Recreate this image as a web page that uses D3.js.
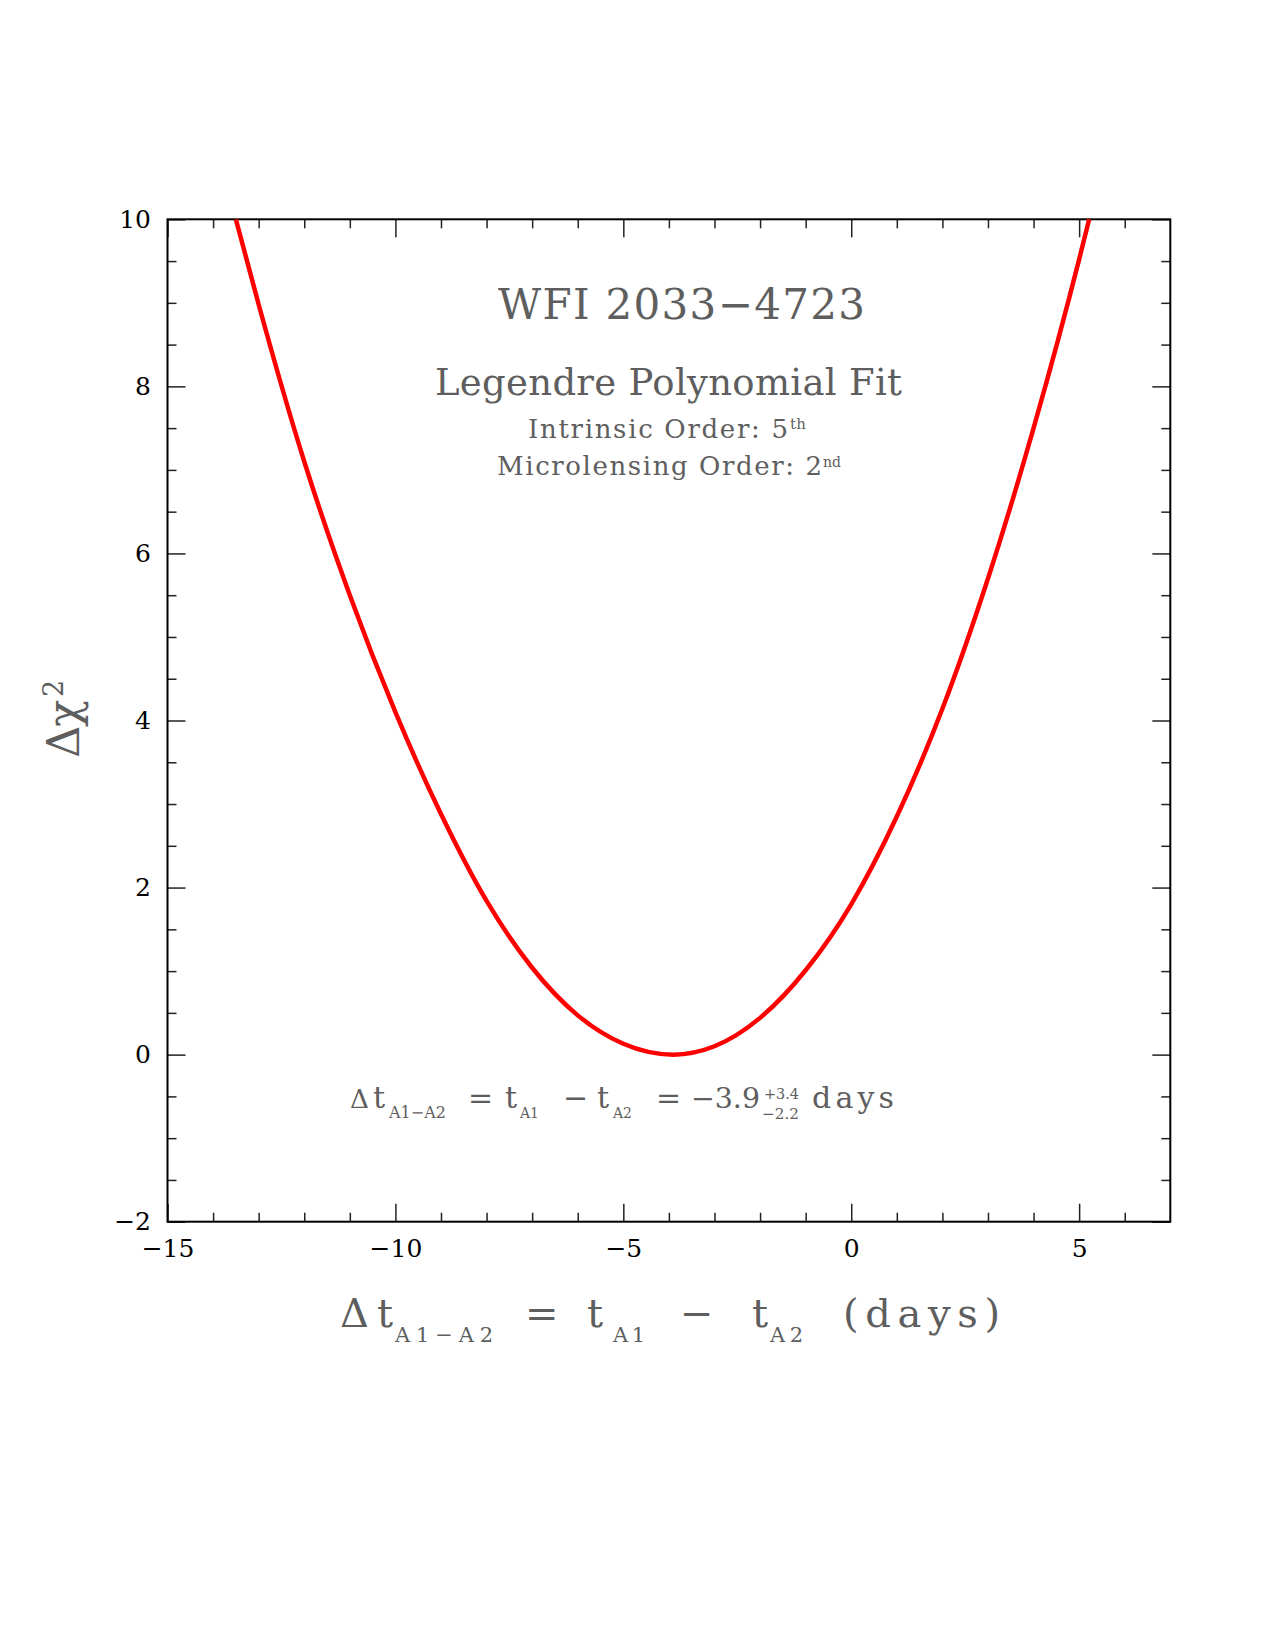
<!DOCTYPE html>
<html><head><meta charset="utf-8">
<script src="https://cdn.jsdelivr.net/npm/d3@7"></script>
<style>body{margin:0;background:#fff} svg{display:block}</style>
</head><body>
<svg id="chart" width="1275" height="1650"></svg>
<script>
// ---- data ----
const dtValues   = [-13.50, -13.00, -12.00, -11.00, -10.00, -9.00, -8.00, -7.00, -6.00, -5.00, -3.91, -3.00, -2.00, -1.00, 0.00, 1.00, 2.00, 3.00, 4.00, 5.00, 5.22];
const chi2Values = [10.00, 8.98, 7.10, 5.50, 4.10, 2.88, 1.84, 1.04, 0.47, 0.13, 0.00, 0.10, 0.44, 1.01, 1.80, 2.85, 4.14, 5.70, 7.50, 9.52, 10.00];
const xMajorTicks = [-15, -10, -5, 0, 5];
const xMinorTicks = [-14, -13, -12, -11, -9, -8, -7, -6, -4, -3, -2, -1, 1, 2, 3, 4, 6];
const yMajorTicks = [-2, 0, 2, 4, 6, 8, 10];
const yMinorTicks = [-1.5, -1, -0.5, 0.5, 1, 1.5, 2.5, 3, 3.5, 4.5, 5, 5.5, 6.5, 7, 7.5, 8.5, 9, 9.5];
const xDomain = [-15, 7];
const yDomain = [-2, 10];

// ---- layout ----
const L = 167.5, R = 1170.3, T = 219.3, B = 1221.7;
const FONT = "DejaVu Serif";
const TEXTC = "#5e5e5e";
const svg = d3.select("#chart");
const x = d3.scaleLinear().domain(xDomain).range([L, R]);
const y = d3.scaleLinear().domain(yDomain).range([B, T]);
const fmt = d3.format("d");

function styleAxis(g) {
  g.select(".domain").remove();
  g.selectAll(".tick line").attr("stroke", "#222").attr("stroke-width", 1.5);
  g.attr("font-family", FONT).attr("font-size", 25);
  g.selectAll(".tick text").attr("fill", "#000");
}
function major(axisFn, pos, vals, withLabels, pad) {
  const g = svg.append("g").attr("transform", pos)
    .call(axisFn.tickValues(vals).tickSizeInner(-18).tickSizeOuter(0).tickPadding(pad || 3)
      .tickFormat(withLabels ? fmt : ""));
  styleAxis(g);
}
function minor(axisFn, pos, vals) {
  const g = svg.append("g").attr("transform", pos)
    .call(axisFn.tickValues(vals).tickSizeInner(-9).tickSizeOuter(0).tickFormat(""));
  styleAxis(g);
}
major(d3.axisBottom(x), `translate(0,${B})`, xMajorTicks, true, 17.5);
major(d3.axisTop(x), `translate(0,${T})`, xMajorTicks, false);
major(d3.axisLeft(y), `translate(${L},0)`, yMajorTicks, true, 16.5);
major(d3.axisRight(y), `translate(${R},0)`, yMajorTicks, false);
minor(d3.axisBottom(x), `translate(0,${B})`, xMinorTicks);
minor(d3.axisTop(x), `translate(0,${T})`, xMinorTicks);
minor(d3.axisLeft(y), `translate(${L},0)`, yMinorTicks);
minor(d3.axisRight(y), `translate(${R},0)`, yMinorTicks);

// frame
svg.append("rect").attr("x", L).attr("y", T).attr("width", R - L).attr("height", B - T)
  .attr("fill", "none").attr("stroke", "#000").attr("stroke-width", 2);

// curve
svg.append("clipPath").attr("id", "clip").append("rect")
  .attr("x", L).attr("y", T - 1).attr("width", R - L).attr("height", B - T + 1);
const pts = dtValues.map((d, i) => [d, chi2Values[i]]);
svg.append("path").datum(pts)
  .attr("clip-path", "url(#clip)")
  .attr("fill", "none").attr("stroke", "#ff0000").attr("stroke-width", 4.5)
  .attr("stroke-linejoin", "round")
  .attr("d", d3.line().x(d => x(d[0])).y(d => y(d[1])).curve(d3.curveMonotoneX));

// ---- text ----
function fitText(parent, str, x0, x1, yb, size, fill) {
  const t = parent.append("text").attr("x", x0).attr("y", yb)
    .attr("font-family", FONT).attr("font-size", size).attr("fill", fill || TEXTC).text(str);
  const n = [...str].length;
  if (x1 != null) {
    const w = t.node().getComputedTextLength();
    const target = x1 - x0;
    if (w > target) {
      t.attr("font-size", size * target / w);
    } else if (n > 1) {
      t.attr("letter-spacing", (target - w) / (n - 1));
    }
  }
  return t;
}

// title block
fitText(svg, "WFI 2033\u22124723", 498, 865, 319, 42);
fitText(svg, "Legendre Polynomial Fit", 435, 902, 395, 37);
fitText(svg, "Intrinsic Order: 5", 528, 788, 438, 26);
fitText(svg, "th", 790, 806, 429, 15);
fitText(svg, "Microlensing Order: 2", 497, 822, 475, 26);
fitText(svg, "nd", 823, 841, 467, 15);

// annotation inside the plot
const ab = 1108, as = 1118, ap = 1099;
fitText(svg, "\u0394", 350, 369, ab, 27);
fitText(svg, "t", 373, null, ab, 30);
fitText(svg, "A1\u2212A2", 389, 446, as, 16);
fitText(svg, "=", 468, null, ab, 30);
fitText(svg, "t", 505, null, ab, 30);
fitText(svg, "A1", 520, 539, as, 16);
fitText(svg, "\u2212", 563, null, ab, 30);
fitText(svg, "t", 597, null, ab, 30);
fitText(svg, "A2", 613, 632, as, 16);
fitText(svg, "=", 656, null, ab, 30);
fitText(svg, "\u22123.9", 691, 760, ab, 30);
fitText(svg, "+3.4", 764, 799, ap, 16);
fitText(svg, "\u22122.2", 762, 799, as + 1, 16);
fitText(svg, "days", 812, 894, ab, 30);

// x axis title
const xb = 1327, xs = 1342;
fitText(svg, "\u0394", 340, 371, xb, 40);
fitText(svg, "t", 377, null, xb, 40);
fitText(svg, "A1\u2212A2", 395, 493, xs, 21);
fitText(svg, "=", 525, null, xb, 40);
fitText(svg, "t", 587, null, xb, 40);
fitText(svg, "A1", 613, 645, xs, 21);
fitText(svg, "\u2212", 680, null, xb, 40);
fitText(svg, "t", 752, null, xb, 40);
fitText(svg, "A2", 770, 803, xs, 21);
fitText(svg, "(days)", 843, 1000, xb, 40);

// y axis title (rotated)
const gy = svg.append("g").attr("transform", "translate(79,758) rotate(-90)");
fitText(gy, "\u0394", 0, null, 0, 45);
fitText(gy, "\u03c7", 31, null, 0, 45);
fitText(gy, "2", 61, null, -16, 27);
</script>
</body></html>
